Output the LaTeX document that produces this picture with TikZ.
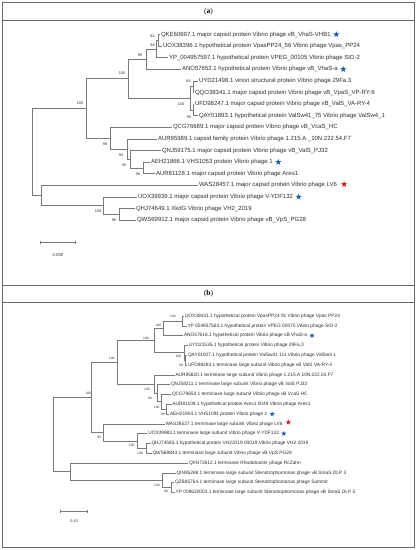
\documentclass[tikz,border=0pt]{standalone}
\usepackage{fontspec}
\setmainfont{Liberation Serif}
\newfontfamily\treefont{Liberation Sans}
\usetikzlibrary{arrows.meta,positioning,shapes.geometric}
\definecolor{branch}{HTML}{7A7A7A}
\definecolor{leaftext}{HTML}{2E2E2E}
\definecolor{rule}{HTML}{6A6A6A}
\definecolor{starblue}{HTML}{1F5DBF}
\definecolor{starred}{HTML}{E3141C}
\tikzset{leafa/.style={anchor=west,inner sep=0.8pt,text=leaftext,
  font=\treefont\fontsize{6}{6}\selectfont},
  leafb/.style={anchor=west,inner sep=0.8pt,text=leaftext,
  font=\treefont\fontsize{4.8}{4.8}\selectfont},
  boota/.style={inner sep=0pt,text=leaftext,font=\treefont\fontsize{3.8}{4}\selectfont},
  bootb/.style={inner sep=0pt,text=leaftext,font=\treefont\fontsize{3.3}{3.5}\selectfont},
  edge/.style={draw=branch,line width=0.7pt},
  bluestar/.style={star,star points=5,star point ratio=2.4,fill=starblue,
  inner sep=0pt,minimum size=6.5pt},
  redstar/.style={bluestar,fill=starred},
  header/.style={font=\fontsize{7.5}{8}\selectfont,text=black}}

\begin{document}
\begin{tikzpicture}[x=1pt,y=-1pt]
\useasboundingbox (0,0) rectangle (417,550);
\fill[white] (0,0) rectangle (417,550);
% table frame
\draw[rule,line width=0.7pt] (2,2.5) rectangle (414.5,547);
\draw[rule,line width=0.7pt] (2,20) -- (414.5,20);
\draw[rule,line width=1pt] (2,285) -- (414.5,285);
\draw[rule,line width=0.7pt] (2,302) -- (414.5,302);
\node[header] (hdra) at (208.5,11.5) {(\textbf{a})};
\node[header] (hdrb) at (208.5,293.5) {(\textbf{b})};

% (a) leaves
\node[leafa] (qke) at (160,34.5) {QKE60697.1 major capsid protein Vibrio phage vB\_VhaS-VHB1};
\node[leafa] (uoxa) at (162,46.1) {UOX38396.1 hypothetical protein VpasPP24\_56 Vibrio phage Vpas\_PP24};
\node[leafa] (ypa) at (168,57.7) {YP\_004957597.1 hypothetical protein VPEG\_00105 Vibrio phage SIO-2};
\node[leafa] (anoa) at (181,69.3) {ANO57652.1 hypothetical protein Vibrio phage vB\_VhaS-a};
\node[leafa] (uyda) at (198,80.9) {UYD21498.1 virion structural protein Vibrio phage 29Fa.3};
\node[leafa] (qqo) at (194,92.5) {QQO38341.1 major capsid protein Vibrio phage vB\_VpaS\_VP-RY-9};
\node[leafa] (ufda) at (194,104.1) {UFD98247.1 major capsid protein Vibrio phage vB\_ValS\_VA-RY-4};
\node[leafa] (qaya) at (198,115.7) {QAY01893.1 hypothetical protein ValSw41\_75 Vibrio phage ValSw4\_1};
\node[leafa] (qcga) at (172,127.3) {QCG76689.1 major capsid protein Vibrio phage vB\_VcaS\_HC};
\node[leafa] (aura) at (157,138.9) {AUR95989.1 capsid family protein Vibrio phage 1.215.A.\_10N.222.54.F7};
\node[leafa] (qnja) at (161,150.5) {QNJ59175.1 major capsid protein Vibrio phage vB\_ValS\_PJ32};
\node[leafa] (aeha) at (150,162.1) {AEH21866.1 VHS1053 protein Vibrio phage 1};
\node[leafa] (aurb) at (155,173.7) {AUR81128.1 major capsid protein Vibrio phage Ares1};
\node[leafa] (wasa) at (198,185.3) {WAS28457.1 major capsid protein Vibrio phage LV6};
\node[leafa] (uoxb) at (137,196.9) {UOX39939.1 major capsid protein Vibrio phage V-YDF132};
\node[leafa] (qhja) at (135,208.5) {QHJ74649.1 XkdG Vibrio phage VH2\_2019};
\node[leafa] (qwsa) at (136,220.1) {QWS69912.1 major capsid protein Vibrio phage vB\_VpS\_PG28};
\node[bluestar,right=2.5pt of qke] (starqke) {};
\node[bluestar,right=2.5pt of anoa] (staranoa) {};
\node[bluestar,right=2.5pt of aeha] (staraeha) {};
\node[redstar,right=4pt of wasa,yshift=1pt] (starwasa) {};
\node[bluestar,right=2.5pt of uoxb] (staruoxb) {};

% (a) inner nodes
\coordinate (q3a) at (158.5,40.3);
\coordinate (q2a) at (156,49);
\coordinate (qa) at (146,59.15);
\coordinate (s1a) at (193,86.7);
\coordinate (s2a) at (193,109.9);
\coordinate (ga) at (190,98.3);
\coordinate (pa) at (128,78.7);
\coordinate (fa) at (143,167.9);
\coordinate (ea) at (130,159.2);
\coordinate (da) at (127.5,149);
\coordinate (ca) at (110,138.2);
\coordinate (na) at (86,108.5);
\coordinate (ia) at (119,214.3);
\coordinate (ha) at (103,205.6);
\coordinate (ba) at (41,195.5);
\coordinate (ra) at (32,152);
\foreach \a/\b in {q3a/qke,q3a/uoxa,q2a/q3a,q2a/ypa,qa/q2a,qa/anoa,s1a/uyda,s1a/qqo,
  s2a/ufda,s2a/qaya,ga/s1a,ga/s2a,pa/qa,pa/ga,na/pa,na/ca,ca/qcga,ca/da,da/aura,da/ea,
  ea/qnja,ea/fa,fa/aeha,fa/aurb,ra/na,ra/ba,ba/wasa,ba/ha,ha/uoxb,ha/ia,ia/qhja,ia/qwsa}
\draw[edge] (\a) |- (\b);
\foreach \v/\x/\y in {84/152.5/36,98/152.5/45.5,95/140/55,100/122/73,100/80/103,
  66/188.5/81,100/181/104,95/189/117,98/105/144,94/121/155,45/124/165,96/138/174,
  100/98/211.5,98/114/220}
\node[boota] at (\x,\y) {\v};

% (a) scale
\coordinate (scla) at (40,242.7);
\coordinate (sclb) at (76,242.7);
\draw[edge,{Bar[width=3pt]}-{Bar[width=3pt]}] (scla) -- (sclb);
\node[boota,font=\treefont\fontsize{4.3}{5}\selectfont] (scltxta) at (58,255) {0.050};

% (b) leaves
\node[leafb] (uoxc) at (184,316) {UOX38431.1 hypothetical protein VpasPP24 91 Vibrio phage Vpas PP24};
\node[leafb] (ypb) at (186.5,325.8) {YP 004957563.1 hypothetical protein VPEG 00070 Vibrio phage SIO-2};
\node[leafb] (anob) at (183,335.6) {ANO57616.1 hypothetical protein Vibrio phage vB VhaS-a};
\node[leafb] (uydb) at (188,345.4) {UYD21535.1 hypothetical protein Vibrio phage 29Fa.3};
\node[leafb] (qayb) at (187,355.2) {QAY01927.1 hypothetical protein ValSw41 111 Vibrio phage ValSw4 1};
\node[leafb] (ufdb) at (187,365) {UFD98283.1 terminase large subunit Vibrio phage vB ValS VA-RY-4};
\node[leafb] (aurc) at (174.5,374.8) {AUR95820.1 terminase large subunit Vibrio phage 1.215.A 10N.222.54.F7};
\node[leafb] (qnjb) at (170,384.6) {QNJ58211.1 terminase large subunit Vibrio phage vB ValS PJ32};
\node[leafb] (qcgb) at (171,394.4) {QCG79653.1 terminase large subunit Vibrio phage vB VcaS HC};
\node[leafb] (aurd) at (171.5,404.2) {AUR81109.1 hypothetical protein Ares1 0049 Vibrio phage Ares1};
\node[leafb] (aehb) at (169,414) {AEH21904.1 VHS1091 protein Vibrio phage 1};
\node[leafb] (wasb) at (164.5,423.8) {WAS28527.1 terminase large subunit Vibrio phage LV6};
\node[leafb] (uoxd) at (147.3,433.6) {UOX39983.1 terminase large subunit Vibrio phage V-YDF132};
\node[leafb] (qhjb) at (150.5,443.4) {QHJ74583.1 hypothetical protein VH22019 00019 Vibrio phage VH2 2019};
\node[leafb] (qwsb) at (151.5,453.2) {QWS69843.1 terminase large subunit Vibrio phage vB VpS PG28};
\node[leafb] (qxn) at (188,463) {QXN72612.1 terminase Rhodobacter phage RcZahn};
\node[leafb] (qin) at (175.5,472.8) {QIN95269.1 terminase large subunit Stenotrophomonas phage vB SmaS DLP 3};
\node[leafb] (qzb) at (174,482.6) {QZB85764.1 terminase large subunit Stenotrophomonas phage Summit};
\node[leafb] (ypc) at (174.7,492.4) {YP 009620003.1 terminase large subunit Stenotrophomonas phage vB SmaS DLP 5};
\node[bluestar,minimum size=5.5pt,right=2pt of anob] (staranob) {};
\node[bluestar,minimum size=5.5pt,right=2pt of aehb] (staraehb) {};
\node[redstar,minimum size=5.5pt,right=3pt of wasb,yshift=1.5pt] (starwasb) {};
\node[bluestar,minimum size=5.5pt,right=2pt of uoxd] (staruoxd) {};

% (b) inner nodes
\coordinate (m1) at (182,320.9);
\coordinate (m2) at (163,328.25);
\coordinate (m3) at (154,340.5);
\coordinate (m4) at (184,352.75);
\coordinate (m5) at (185,360.1);
\coordinate (m6) at (117,362.25);
\coordinate (m7) at (154.5,384);
\coordinate (m8) at (157,393.2);
\coordinate (m9) at (161.7,401.75);
\coordinate (m10) at (166,409.1);
\coordinate (k1) at (146,448.3);
\coordinate (k2) at (137.5,441);
\coordinate (k3) at (103,432.4);
\coordinate (k4) at (91,397.3);
\coordinate (c2) at (171,487.5);
\coordinate (c1) at (162,480.15);
\coordinate (c0) at (70,471.6);
\coordinate (rb) at (53,434.5);
\foreach \a/\b in {m1/uoxc,m1/ypb,m2/m1,m2/anob,m5/qayb,m5/ufdb,m4/uydb,m4/m5,m3/m2,m3/m4,
  m10/aurd,m10/aehb,m9/qcgb,m9/m10,m8/qnjb,m8/m9,m7/aurc,m7/m8,m6/m3,m6/m7,
  k1/qhjb,k1/qwsb,k2/uoxd,k2/k1,k3/wasb,k3/k2,k4/m6,k4/k3,
  c2/qzb,c2/ypc,c1/qin,c1/c2,c0/qxn,c0/c1,rb/k4,rb/c0}
\draw[edge,line width=0.6pt] (\a) |- (\b);
\foreach \v/\x/\y in {100/173/316.5,100/158.3/325,100/146/338.3,100/178.3/356.5,99/181/365.5,
  100/111.7/358.3,100/147/389.3,66/150/398.3,100/156.7/407.3,99/163/414,
  100/88.3/393.3,95/99.3/437,100/131.7/445,100/140/453,100/157/485,99/166/491.5}
\node[bootb] at (\x,\y) {\v};

% (b) scale
\coordinate (sclc) at (60,511);
\coordinate (scld) at (87.5,511);
\draw[edge,line width=0.6pt,{Bar[width=3pt]}-{Bar[width=3pt]}] (sclc) -- (scld);
\node[bootb,font=\treefont\fontsize{3.8}{4}\selectfont] (scltxtb) at (74,521) {0.10};
\end{tikzpicture}
\end{document}
